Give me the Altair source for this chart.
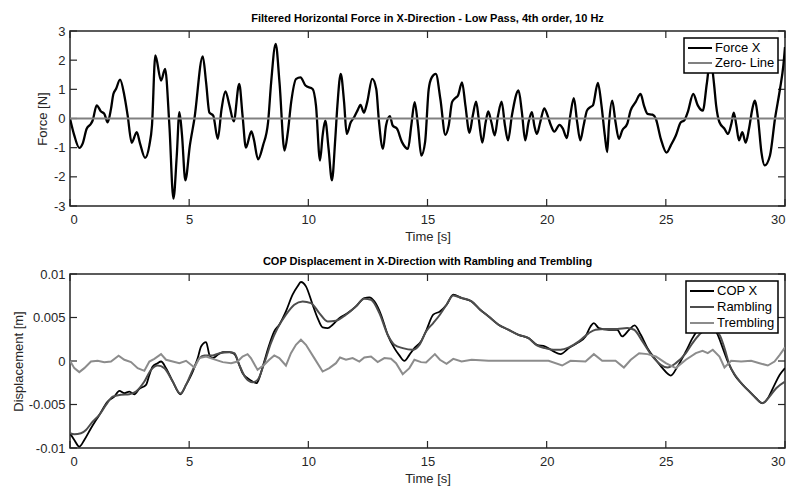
import altair as alt
import pandas as pd

FONT = "Liberation Sans"
INK = "#262626"

# ---------------- Top panel: filtered horizontal force [N] ----------------
force_t = [0.00, 0.18, 0.39, 0.53, 0.70, 0.88, 0.95, 1.12, 1.30, 1.44, 1.58, 1.72, 1.82, 1.93, 2.10,
           2.28, 2.42, 2.59, 2.80, 2.94, 3.15, 3.33, 3.44, 3.58, 3.82, 3.99, 4.17, 4.34, 4.48, 4.59,
           4.70, 4.84, 5.03, 5.22, 5.57, 5.71, 5.85, 6.01, 6.20, 6.36, 6.52, 6.69, 6.87, 7.10, 7.24,
           7.38, 7.61, 7.71, 7.89, 8.10, 8.31, 8.44, 8.63, 8.79, 9.00, 9.14, 9.28, 9.49, 9.67, 9.88,
           10.18, 10.32, 10.49, 10.60, 10.71, 10.85, 10.99, 11.13, 11.22, 11.36, 11.50, 11.61, 11.78,
           11.92, 12.06, 12.19, 12.33, 12.47, 12.68, 12.85, 12.96, 13.13, 13.26, 13.42, 13.54, 13.72,
           13.93, 14.18, 14.32, 14.46, 14.60, 14.74, 14.90, 15.05, 15.18, 15.35, 15.54, 15.75, 15.89,
           16.03, 16.17, 16.28, 16.45, 16.59, 16.76, 16.90, 17.04, 17.15, 17.30, 17.44, 17.55, 17.68,
           17.82, 17.96, 18.11, 18.25, 18.38, 18.54, 18.82, 18.96, 19.10, 19.24, 19.38, 19.48, 19.59,
           19.73, 19.90, 20.04, 20.18, 20.32, 20.54, 20.68, 20.85, 20.99, 21.14, 21.28, 21.41, 21.55,
           21.69, 21.83, 21.94, 22.15, 22.30, 22.44, 22.54, 22.61, 22.75, 22.89, 23.03, 23.17, 23.38,
           23.52, 23.73, 23.94, 24.08, 24.23, 24.44, 24.58, 24.79, 25.03, 25.21, 25.42, 25.63, 25.77,
           25.92, 26.15, 26.34, 26.55, 26.72, 26.87, 27.02, 27.11, 27.25, 27.46, 27.61, 27.75, 27.85,
           27.96, 28.07, 28.21, 28.35, 28.49, 28.63, 28.73, 28.87, 29.01, 29.15, 29.37, 29.58, 29.79,
           29.93, 30.00]
force_v = [0.00, -0.58, -1.01, -0.86, -0.35, -0.18, -0.07, 0.45, 0.24, 0.16, -0.13, 0.33, 0.84, 1.01, 1.33,
           0.79, 0.10, -0.83, -0.47, -0.86, -1.35, -0.92, -0.24, 2.16, 1.30, 1.70, -0.24, -2.75, -1.27, 0.22,
           -0.58, -2.12, -0.92, -0.01, 2.13, 1.24, 0.20, 0.10, -0.70, 0.33, 0.93, 0.45, -0.10, 1.19, 0.10,
           -1.00, -0.44, -0.70, -1.40, -0.92, -0.13, 1.24, 2.56, 1.24, -1.10, -0.47, 0.56, 1.36, 1.41, 1.13,
           1.01, 0.45, -1.44, -0.58, -0.07, -1.04, -2.12, -0.70, 0.45, 1.53, 0.56, -0.53, -0.13,
           0.04, 0.27, 0.47, 0.20, 0.56, 1.36, 1.01, -0.07, -1.04, -0.24, 0.08, -0.24, -0.35,
           -0.81, -1.04, -0.24, 0.56, -0.24, -1.27, -0.80, 1.00, 1.41, 1.53, 0.67, -0.56, -0.24,
           0.56, 0.70, 0.79, 1.24, 0.45, -0.49, 0.10, 0.58, -0.01, -0.83, -0.13, 0.24, -0.13,
           -0.58, 0.10, 0.58, -0.24, -0.75, 0.10, 0.96, 0.22, -0.75, -0.13, 0.22, -0.24, -0.53,
           -0.13, 0.35, 0.10, -0.24, -0.45, -0.22, -0.35, -0.67, 0.10, 0.70, -0.13, -0.75, -0.24,
           0.27, 0.39, 0.45, 1.22, 0.45, -0.58, -1.15, -0.24, 0.61, -0.13, -0.70, -0.41, -0.18,
           0.27, 0.56, 0.84, 0.45, 0.16, 0.13, -0.01, -0.70, -1.17, -0.92, -0.58, -0.13, -0.07,
           0.22, 0.84, 0.45, 0.27, 1.20, 2.05, 1.20, 0.45, -0.13, -0.35, -0.53, -0.18, 0.20,
           -0.24, -0.75, -0.47, -0.83, -0.35, 0.33, 0.61, -0.01, -1.15, -1.61, -1.27, -0.01, 1.01,
           1.81, 2.45]
zero_t = [0, 30]
zero_v = [0, 0]

# ---------------- Bottom panel: COP displacement (values in mm, i.e. 1e-3 m) ----------------
cop_t = [0.00, 0.18, 0.39, 0.60, 0.88, 1.23, 1.58, 1.86, 2.07, 2.28, 2.49, 2.70, 2.91, 3.19, 3.33, 3.47,
         3.68, 3.82, 4.03, 4.31, 4.63, 4.87, 5.15, 5.36, 5.50, 5.71, 5.85, 5.99, 6.20, 6.41, 6.69, 6.90,
         7.10, 7.24, 7.45, 7.66, 7.83, 7.94, 8.15, 8.36, 8.57, 8.78, 9.06, 9.34, 9.55, 9.69, 9.90, 10.18,
         10.39, 10.60, 10.81, 11.02, 11.30, 11.65, 12.00, 12.35, 12.56, 12.77, 13.05, 13.33, 13.61, 13.82,
         14.03, 14.24, 14.45, 14.74, 14.96, 15.24, 15.52, 15.80, 16.08, 16.43, 16.85, 17.21, 17.56, 17.98,
         18.40, 18.82, 19.24, 19.59, 19.94, 20.29, 20.58, 20.93, 21.28, 21.63, 21.84, 21.98, 22.19, 22.61,
         22.96, 23.17, 23.46, 23.69, 23.95, 24.23, 24.58, 24.86, 25.21, 25.49, 25.84, 26.12, 26.40, 26.75,
         27.18, 27.39, 27.60, 27.88, 28.16, 28.51, 28.79, 29.04, 29.28, 29.56, 29.78, 30.00]
cop_mm = [-8.31, -9.07, -9.84, -9.07, -7.73, -6.20, -4.66, -4.09, -3.43, -3.70, -3.51, -3.82, -3.20, -2.74, -1.59, -0.63,
          -0.25, -0.06, -0.82, -2.36, -3.82, -2.74, -1.21, 0.33, 1.67, 2.17, 0.71, 0.33, 0.71, 1.02, 1.02, 0.79,
          -0.44, -1.40, -1.97, -2.36, -2.55, -1.97, -0.06, 1.86, 3.40, 4.17, 5.70, 7.62, 8.58, 9.08, 8.58, 6.47,
          4.93, 3.86, 3.78, 4.17, 4.93, 5.51, 6.28, 7.24, 7.31, 6.85, 5.32, 3.01, 1.48, 0.64,
          0.02, 0.71, 1.48, 2.30, 3.59, 5.32, 5.70, 6.47, 7.62, 7.24, 6.85, 5.89, 5.13, 4.17,
          3.59, 3.01, 2.63, 1.86, 1.67, 1.10, 0.79, 1.48, 2.06, 2.82, 3.97, 4.36, 3.78, 3.59,
          3.59, 2.82, 3.59, 4.09, 3.01, 1.48, 0.14, -0.82, -1.67, -0.63, 1.10, 2.63, 3.78, 4.50,
          3.01, 1.48, -0.06, -1.59, -2.55, -3.51, -4.28, -4.85, -4.28, -2.74, -1.59, -0.82]

ramb_t = [0.00, 0.18, 0.46, 0.67, 0.95, 1.23, 1.51, 1.79, 2.14, 2.49, 2.77, 3.12, 3.40, 3.68, 3.96, 4.31,
          4.63, 4.87, 5.15, 5.43, 5.64, 5.99, 6.27, 6.69, 6.90, 7.10, 7.38, 7.66, 7.87, 8.15, 8.43, 8.71,
          9.06, 9.41, 9.76, 10.11, 10.46, 10.81, 11.16, 11.58, 12.00, 12.35, 12.63, 12.98, 13.33, 13.61,
          13.96, 14.38, 14.66, 14.94, 15.24, 15.52, 15.80, 16.08, 16.43, 16.85, 17.21, 17.56, 17.98, 18.40,
          18.82, 19.24, 19.59, 19.94, 20.29, 20.58, 20.93, 21.35, 21.77, 22.05, 22.47, 22.96, 23.38, 23.67,
          24.02, 24.44, 24.79, 25.07, 25.42, 25.84, 26.12, 26.40, 26.80, 27.25, 27.46, 27.67, 27.95, 28.23,
          28.58, 28.93, 29.07, 29.35, 29.63, 30.00]
ramb_mm = [-8.31, -8.42, -8.31, -7.92, -6.96, -6.20, -5.05, -4.09, -3.89, -3.82, -3.51, -2.36, -1.02, -0.52, -0.82, -2.36,
           -3.74, -2.74, -1.02, 0.33, 0.64, 0.64, 0.90, 1.02, 0.90, -0.44, -1.97, -2.44, -2.17, -0.25, 2.06, 3.78,
           5.32, 6.47, 6.85, 6.66, 5.51, 4.55, 4.63, 5.32, 6.28, 7.16, 7.04, 5.51, 3.01, 1.86,
           1.48, 1.29, 1.86, 3.40, 4.36, 5.32, 6.47, 7.54, 7.24, 6.85, 5.89, 5.13, 4.17, 3.59,
           3.01, 2.63, 1.79, 1.48, 1.29, 1.29, 1.56, 2.25, 3.21, 3.59, 3.67, 3.67, 3.78, 3.59,
           2.25, 0.52, -0.44, -0.75, -0.25, 0.90, 2.06, 3.01, 3.80, 3.01, 1.48, -0.44, -1.78, -2.74,
           -3.70, -4.66, -4.85, -4.09, -3.13, -2.36]

trem_t = [0.00, 0.18, 0.39, 0.60, 0.88, 1.16, 1.44, 1.72, 2.04, 2.28, 2.56, 2.84, 3.12, 3.33, 3.54, 3.82,
          4.03, 4.31, 4.59, 4.87, 5.22, 5.43, 5.71, 5.99, 6.41, 6.76, 7.03, 7.24, 7.45, 7.59, 7.87, 8.15,
          8.36, 8.57, 8.78, 9.06, 9.27, 9.48, 9.69, 9.90, 10.25, 10.60, 10.88, 11.16, 11.33, 11.58, 11.86,
          12.14, 12.35, 12.63, 12.91, 13.19, 13.47, 13.68, 13.96, 14.24, 14.45, 14.73, 14.94, 15.31, 15.52,
          15.80, 16.08, 16.43, 16.85, 17.56, 18.40, 19.38, 20.08, 20.65, 21.00, 21.63, 21.98, 22.33, 22.89,
          23.24, 23.53, 23.88, 24.23, 24.58, 25.00, 25.42, 25.84, 26.26, 26.54, 26.76, 26.97, 27.25, 27.46,
          27.74, 28.16, 28.58, 28.93, 29.28, 29.56, 29.78, 30.00]
trem_mm = [0.02, -0.82, -1.28, -0.82, -0.06, 0.02, -0.13, -0.06, 0.60, 0.14, -0.13, -0.82, -1.13, -0.06, 0.25, 0.79,
           0.14, -0.06, -0.25, 0.02, -0.75, 0.33, 0.52, 0.25, -0.13, -0.25, -0.06, 0.52, 0.79, 0.33, -1.02, -0.44,
           0.14, 0.64, 0.33, -0.52, 0.90, 1.86, 2.44, 1.86, 0.33, -1.21, -0.82, -0.25, 0.40, 0.14, 0.33,
           -0.06, 0.40, 0.52, -0.13, 0.33, 0.25, -0.25, -1.51, -0.82, 0.14, -0.13, -0.17, 0.79, 0.14,
           -0.32, 0.25, -0.06, 0.14, 0.02, 0.02, 0.02, 0.02, -0.52, 0.02, -0.06, 0.79, 0.02, 0.02,
           -0.75, 0.14, 0.90, 0.79, 0.52, -0.25, -0.82, 0.14, 0.90, 1.17, 0.90, 1.29, 0.52, -0.75,
           0.02, -0.06, 0.02, -0.25, -0.52, -0.06, 0.71, 1.56]

x_ticks = [0, 5, 10, 15, 20, 25, 30]
force_ticks = [-3, -2, -1, 0, 1, 2, 3]
disp_ticks = [-0.01, -0.005, 0, 0.005, 0.01]

W, H_TOP, H_BOT = 715, 175, 174
TICK = 7
LEGEND_LINE = "M-1,0H3"   # horizontal line sample, longer than the nominal symbol box


def frame(t, v, name):
    return pd.DataFrame({"t": t, "v": v, "series": name})


def build_panel(title, series, names, colors, widths, y_dom, y_ticks, y_title, h, y_title_pad, row_pad):
    xs = alt.Scale(domain=[0, 30], nice=False)
    ys = alt.Scale(domain=y_dom, nice=False, zero=False)
    cs = alt.Scale(domain=names, range=colors)
    xa = alt.Axis(values=x_ticks, grid=False, ticks=False, domain=False, title="Time [s]",
                  labelFont=FONT, labelFontSize=13, labelColor=INK, labelPadding=7,
                  titleFont=FONT, titleFontSize=13, titleFontWeight="normal", titleColor=INK,
                  titlePadding=4, labelExpr="'' + datum.value")
    ya = alt.Axis(values=y_ticks, grid=False, ticks=False, domain=False, title=y_title,
                  labelFont=FONT, labelFontSize=13, labelColor=INK, labelPadding=5,
                  titleFont=FONT, titleFontSize=13, titleFontWeight="normal", titleColor=INK,
                  titlePadding=y_title_pad, labelExpr="'' + datum.value")
    leg = alt.Legend(orient="top-right", offset=7, title=None, symbolType=LEGEND_LINE,
                     symbolSize=144, symbolStrokeWidth=2, labelFont=FONT, labelFontSize=13,
                     labelColor="#000000", strokeColor="#000000", fillColor="#ffffff",
                     padding=3, rowPadding=row_pad, labelOffset=14, cornerRadius=0)

    xt = pd.DataFrame({"t": x_ticks})
    yt = pd.DataFrame({"v": y_ticks})
    tick_style = dict(color=INK, strokeWidth=1.2)
    layers = [
        alt.Chart(xt).mark_rule(**tick_style).encode(
            x=alt.X("t:Q", scale=xs, axis=xa), y=alt.value(0), y2=alt.value(TICK)),
        alt.Chart(xt).mark_rule(**tick_style).encode(
            x=alt.X("t:Q", scale=xs, axis=xa), y=alt.value(h), y2=alt.value(h - TICK)),
        alt.Chart(yt).mark_rule(**tick_style).encode(
            y=alt.Y("v:Q", scale=ys, axis=ya), x=alt.value(0), x2=alt.value(TICK)),
        alt.Chart(yt).mark_rule(**tick_style).encode(
            y=alt.Y("v:Q", scale=ys, axis=ya), x=alt.value(W), x2=alt.value(W - TICK)),
    ]
    for (t, v, name, interp), w in zip(series, widths):
        layers.append(
            alt.Chart(frame(t, v, name)).mark_line(strokeWidth=w, interpolate=interp, clip=True).encode(
                x=alt.X("t:Q", scale=xs, axis=xa),
                y=alt.Y("v:Q", scale=ys, axis=ya),
                color=alt.Color("series:N", scale=cs, legend=leg),
            )
        )
    return alt.layer(*layers).properties(
        width=W, height=h,
        title=alt.TitleParams(title, font=FONT, fontSize=11, fontWeight="bold", color="#000000",
                              anchor="middle", offset=1),
    )


top = build_panel(
    "Filtered Horizontal Force in X-Direction - Low Pass, 4th order, 10 Hz",
    [(force_t, force_v, "Force X", "monotone"), (zero_t, zero_v, "Zero- Line", "linear")],
    ["Force X", "Zero- Line"], ["#000000", "#808080"], [2.3, 2.0],
    [-3, 3], force_ticks, "Force [N]", H_TOP, 4, 1,
)

bottom = build_panel(
    "COP Displacement in X-Direction with Rambling and Trembling",
    [(cop_t, [m * 1e-3 for m in cop_mm], "COP X", "monotone"),
     (ramb_t, [m * 1e-3 for m in ramb_mm], "Rambling", "monotone"),
     (trem_t, [m * 1e-3 for m in trem_mm], "Trembling", "linear")],
    ["COP X", "Rambling", "Trembling"], ["#000000", "#4d4d4d", "#8c8c8c"], [1.8, 2.0, 2.0],
    [-0.01, 0.01], disp_ticks, "Displacement [m]", H_BOT, 3, 2,
)

chart = (
    alt.vconcat(top, bottom, spacing=11)
    .resolve_scale(color="independent", y="independent")
    .resolve_legend(color="independent")
    .properties(padding={"left": 11, "top": 12, "right": 5, "bottom": 0}, background="#ffffff")
    .configure_view(stroke=INK, strokeWidth=1.5)
    .configure_legend(strokeWidth=1.5)
)

chart.save("out.html", embed_options={"renderer": "svg", "actions": False})
